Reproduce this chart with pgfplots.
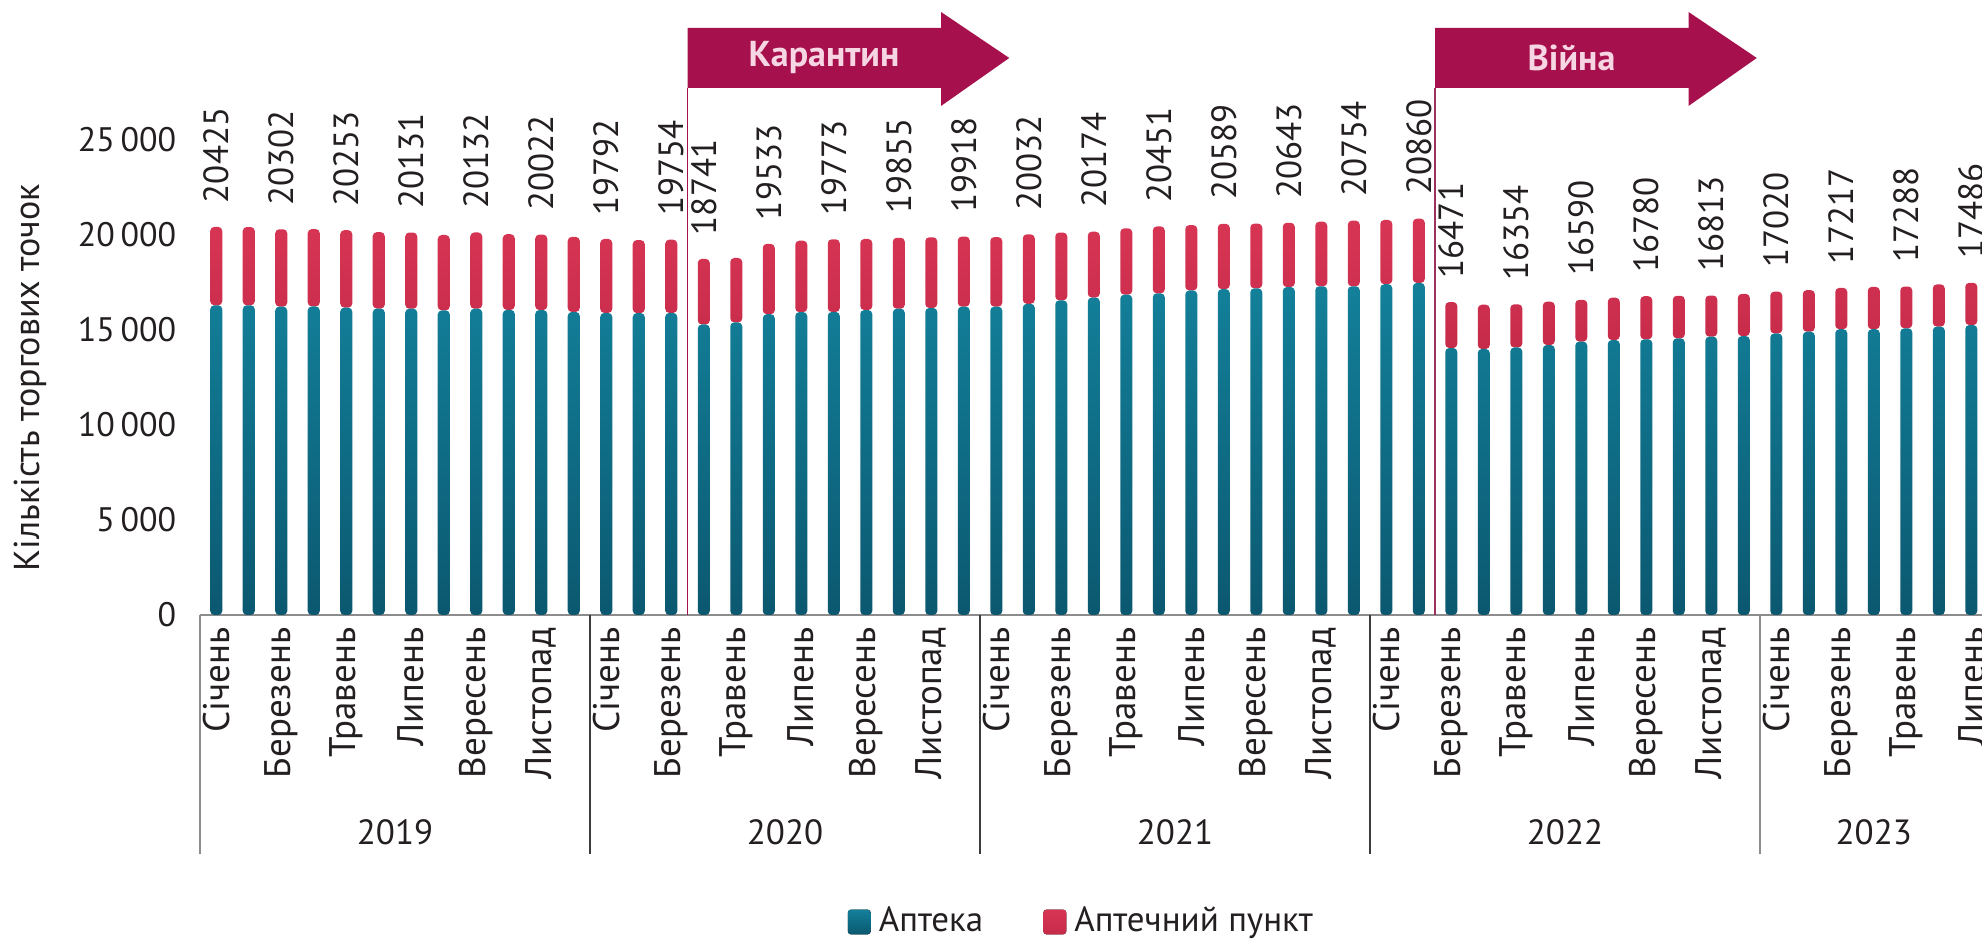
\documentclass[border=0pt]{standalone}
\usepackage{fontspec}
\setmainfont{PT Sans}
\usepackage{pgfplots}
\pgfplotsset{compat=1.18}
\usepackage{pgfplotstable}
\definecolor{tealT}{HTML}{13809A}
\definecolor{tealB}{HTML}{0B5870}
\definecolor{redT}{HTML}{D83554}
\definecolor{redB}{HTML}{C72B4A}
\definecolor{arrowc}{HTML}{A6104D}
\definecolor{arrowtxt}{HTML}{F7D6E4}
\definecolor{txt}{HTML}{231F20}
\definecolor{lgray}{HTML}{8C8C8C}
\definecolor{dgray}{HTML}{3C3C3C}

\pgfplotstableread{
x teal red
0 16300 4125
1 16300 4120
2 16230 4072
3 16240 4070
4 16180 4073
5 16130 4020
6 16120 4011
7 16030 3970
8 16120 4012
9 16060 3980
10 16050 3972
11 15950 3950
12 15900 3892
13 15890 3840
14 15900 3854
15 15290 3451
16 15400 3390
17 15830 3703
18 15940 3760
19 15950 3823
20 16050 3740
21 16120 3735
22 16160 3720
23 16230 3688
24 16230 3660
25 16380 3652
26 16560 3570
27 16710 3464
28 16860 3490
29 16930 3521
30 17080 3440
31 17150 3439
32 17190 3410
33 17260 3383
34 17300 3400
35 17300 3454
36 17410 3380
37 17480 3380
38 14050 2421
39 14000 2330
40 14080 2274
41 14210 2280
42 14390 2200
43 14470 2230
44 14510 2270
45 14560 2240
46 14650 2163
47 14680 2220
48 14820 2200
49 14910 2190
50 15040 2177
51 15040 2230
52 15090 2198
53 15180 2220
54 15260 2226
}\bardata

\pgfplotstableread{
x total
0 20425
2 20302
4 20253
6 20131
8 20132
10 20022
12 19792
14 19754
15 18741
17 19533
19 19773
21 19855
23 19918
25 20032
27 20174
29 20451
31 20589
33 20643
35 20754
37 20860
38 16471
40 16354
42 16590
44 16780
46 16813
48 17020
50 17217
52 17288
54 17486
}\labdata

\pgfplotsset{
  base/.style={scale only axis, width=445.5pt, height=118.75pt,
    xmin=-0.5, xmax=54.33, ymin=0, ymax=25000, clip=false, enlargelimits=false},
  sqlegend/.style={legend image code/.code={\fill[##1, rounded corners=0.8pt] (0pt,-3.1pt) rectangle (5.75pt,3.1pt);}}
}

\begin{document}
\begin{tikzpicture}
\begin{axis}[base,
  ybar stacked, bar width=0.37,
  axis x line*=bottom, axis y line*=left,
  y axis line style={draw=none},
  x axis line style={draw=lgray, line width=0.45pt},
  major tick length=0pt,
  xtick={0,2,...,54},
  xticklabels={Січень,Березень,Травень,Липень,Вересень,Листопад,
               Січень,Березень,Травень,Липень,Вересень,Листопад,
               Січень,Березень,Травень,Липень,Вересень,Листопад,
               Січень,Березень,Травень,Липень,Вересень,Листопад,
               Січень,Березень,Травень,Липень},
  xticklabel style={rotate=90, anchor=east, font=\fontsize{9.25}{10}\selectfont, text=txt, inner xsep=3pt, inner ysep=0pt},
  ytick={0,5000,10000,15000,20000,25000},
  scaled y ticks=false,
  yticklabel style={font=\fontsize{8.5}{10}\selectfont, text=txt, inner sep=0pt, xshift=-5.75pt},
  /pgf/number format/.cd, 1000 sep={\,}, assume math mode=true, /pgfplots/.cd,
  legend columns=2,
  legend cell align=left,
  legend style={at={(axis description cs:0.3631,-0.6463)}, anchor=west, draw=none, fill=none,
    inner sep=0pt, font=\fontsize{8.75}{10}\selectfont, text=txt,
    /tikz/every even column/.append style={column sep=13pt}},
]
\addplot[draw=none, top color=tealT, bottom color=tealB, rounded corners=1pt, sqlegend] table[x=x, y=teal]{\bardata};
\addlegendentry{Аптека}
\addplot[draw=none, top color=redT, bottom color=redB, rounded corners=1pt, sqlegend] table[x=x, y=red]{\bardata};
\addlegendentry{Аптечний пункт}

% event lines
\draw[arrowc, line width=0.4pt] (axis cs:14.5,0) -- (axis cs:14.5,27737);
\draw[arrowc!70!gray, line width=0.4pt] (axis cs:37.5,0) -- (axis cs:37.5,27737);

% year separators
\draw[lgray, line width=0.5pt] ([yshift=-59.75pt]axis cs:-0.5,0) -- (axis cs:-0.5,0);
\draw[dgray, line width=0.5pt] ([yshift=-59.75pt]axis cs:11.5,0) -- (axis cs:11.5,0);
\draw[dgray, line width=0.5pt] ([yshift=-59.75pt]axis cs:23.5,0) -- (axis cs:23.5,0);
\draw[dgray, line width=0.5pt] ([yshift=-59.75pt]axis cs:35.5,0) -- (axis cs:35.5,0);
\draw[lgray, line width=0.5pt] ([yshift=-59.75pt]axis cs:47.5,0) -- (axis cs:47.5,0);
% year labels
\node[font=\fontsize{8.75}{10}\selectfont, text=txt] at ([yshift=-54.25pt]axis cs:5.5,0) {2019};
\node[font=\fontsize{8.75}{10}\selectfont, text=txt] at ([yshift=-54.25pt]axis cs:17.5,0) {2020};
\node[font=\fontsize{8.75}{10}\selectfont, text=txt] at ([yshift=-54.25pt]axis cs:29.5,0) {2021};
\node[font=\fontsize{8.75}{10}\selectfont, text=txt] at ([yshift=-54.25pt]axis cs:41.5,0) {2022};
\node[font=\fontsize{8.75}{10}\selectfont, text=txt] at ([yshift=-54.25pt]axis cs:51,0) {2023};
% y label
\node[rotate=90, font=\fontsize{9}{10}\selectfont, text=txt] at ([xshift=-42.5pt]axis cs:-0.5,12500) {Кількість торгових точок};
\end{axis}

\begin{axis}[base, hide axis]
\addplot[draw=none, mark=none, point meta=y,
  nodes near coords={\pgfmathprintnumber[fixed, precision=0, 1000 sep={}, assume math mode=true]{\pgfplotspointmeta}},
  every node near coord/.append style={rotate=90, anchor=west, inner xsep=5.75pt, inner ysep=0pt,
    font=\fontsize{8.75}{10}\selectfont, text=txt}]
  table[x=x, y=total]{\labdata};
% arrows
\fill[arrowc] (axis cs:14.5,27737) -- (axis cs:14.5,30895) -- (axis cs:22.3,30895) -- (axis cs:22.3,31737)
  -- (axis cs:24.4,29316) -- (axis cs:22.3,26790) -- (axis cs:22.3,27737) -- cycle;
\fill[arrowc] (axis cs:37.5,27737) -- (axis cs:37.5,30895) -- (axis cs:45.3,30895) -- (axis cs:45.3,31737)
  -- (axis cs:47.4,29316) -- (axis cs:45.3,26790) -- (axis cs:45.3,27737) -- cycle;
\node[font=\bfseries\fontsize{9}{10}\selectfont, text=arrowtxt] at (axis cs:18.7,29316) {Карантин};
\node[font=\bfseries\fontsize{9}{10}\selectfont, text=arrowtxt] at (axis cs:41.7,29316) {Війна};
\end{axis}

\pgfresetboundingbox
\path[use as bounding box] ([xshift=-50pt,yshift=-81pt]current axis.south west) rectangle ([yshift=35pt]current axis.north east);
\end{tikzpicture}
\end{document}
